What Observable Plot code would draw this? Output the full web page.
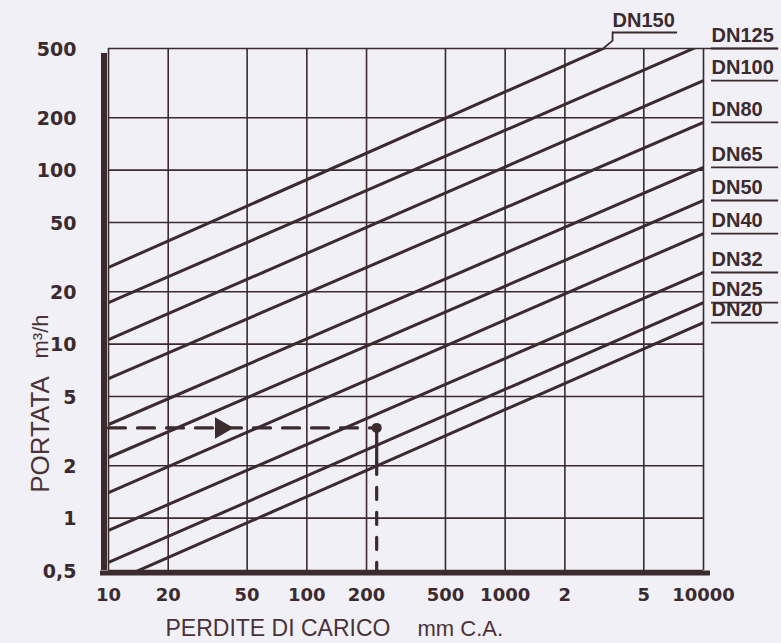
<!DOCTYPE html>
<html>
<head>
<meta charset="utf-8">
<script src="https://cdn.jsdelivr.net/npm/d3@7"></script>
<script src="https://cdn.jsdelivr.net/npm/@observablehq/plot@0.6"></script>
<style>
  html, body { margin: 0; padding: 0; background: #f0f0f6; }
  #chart svg { display: block; }
</style>
</head>
<body>
<div id="chart"></div>
<script>
// ---- Data ----
const sizes     = ["DN150", "DN125", "DN100", "DN80", "DN65", "DN50", "DN40", "DN32", "DN25", "DN20"];
const qAt10     = [27.6, 17.3, 10.6, 6.34, 3.45, 2.23, 1.40, 0.85, 0.556, 0.42];   // m3/h at 10 mm C.A.
const qAt10000  = [900, 530, 327, 188, 103.6, 66.9, 43.2, 25.8, 17.3, 13.3];      // m3/h at 10000 mm C.A.
const dpEnds    = [10, 10000];

const xTicks      = [10, 20, 50, 100, 200, 500, 1000, 2000, 5000, 10000];
const xTickLabels = ["10", "20", "50", "100", "200", "500", "1000", "2", "5", "10000"];
const yTicks      = [0.5, 1, 2, 5, 10, 20, 50, 100, 200, 500];
const yTickLabels = ["0,5", "1", "2", "5", "10", "20", "50", "100", "200", "500"];

// worked example (dashed reading line)
const exampleQ = 3.3;
const exampleDp = 225;
const exampleArrowDp = 37;
const exampleSolidEndQ = 2.09;

// DN150 leader (label sits above the frame)
const leaderDp = [3120, 3480, 3480];
const leaderQ  = [500, 555, 618];
const dn150UnderlineEndDp = 7400;

// ---- Build tables ----
const lineData = sizes.flatMap((s, i) => dpEnds.map((dp, j) => ({size: s, dp, q: j === 0 ? qAt10[i] : qAt10000[i]})));
const labelRows = sizes.slice(1).map((s, k) => ({size: s, q: Math.min(qAt10000[k + 1], 500)}));
const leader = leaderDp.map((dp, i) => ({dp, q: leaderQ[i]}));

const ink = "#3b2a2e";
const font = "'Liberation Sans', Arial, sans-serif";
const tickFont = "'DejaVu Sans', 'Liberation Sans', sans-serif";

const chart = Plot.plot({
  width: 781,
  height: 643,
  marginLeft: 108,
  marginRight: 78,
  marginTop: 48,
  marginBottom: 73,
  style: {background: "#f0f0f6", color: ink, fontFamily: font},
  x: {type: "log", domain: [10, 10000], axis: null},
  y: {type: "log", domain: [0.5, 500], axis: null},
  marks: [
    // grid
    Plot.ruleX(xTicks, {stroke: ink, strokeWidth: 1.6}),
    Plot.ruleY(yTicks.filter(d => d !== 500), {x1: 10, x2: 10000, stroke: ink, strokeWidth: 1.6}),
    // top frame, extended as DN125 underline
    Plot.ruleY([500], {x1: 10, x2: 21800, insetRight: -8, stroke: ink, strokeWidth: 1.6}),
    // thick axes
    Plot.ruleX([10], {y1: 0.5, y2: 500, dx: -4.5, insetBottom: -5, stroke: ink, strokeWidth: 6}),
    Plot.ruleY([0.5], {x1: 10, x2: 10000, dy: 2.5, insetLeft: -8, insetRight: -7, stroke: ink, strokeWidth: 5}),
    // pipe lines
    Plot.line(lineData, {x: "dp", y: "q", z: "size", stroke: ink, strokeWidth: 3, clip: true}),
    // worked example
    Plot.line([{dp: 10, q: exampleQ}, {dp: exampleDp, q: exampleQ}], {x: "dp", y: "q", stroke: ink, strokeWidth: 3.2, strokeDasharray: "17,12"}),
    Plot.line([{dp: exampleDp, q: exampleQ}, {dp: exampleDp, q: exampleSolidEndQ}], {x: "dp", y: "q", stroke: ink, strokeWidth: 3.2}),
    Plot.line([{dp: exampleDp, q: exampleSolidEndQ}, {dp: exampleDp, q: 0.5}], {x: "dp", y: "q", stroke: ink, strokeWidth: 3.2, strokeDasharray: "12,13"}),
    Plot.dot([{dp: exampleDp, q: exampleQ}], {x: "dp", y: "q", r: 5, fill: ink, stroke: "none"}),
    Plot.dot([{dp: exampleArrowDp, q: exampleQ}], {x: "dp", y: "q", symbol: "triangle", rotate: 90, r: 8, fill: ink, stroke: "none"}),
    // tick labels
    Plot.text(yTicks, {x: 10, y: d => d, text: (d, i) => yTickLabels[i], textAnchor: "end", dx: -32, dy: 1, fontSize: 19, fontWeight: "bold", fontFamily: tickFont, fill: ink}),
    Plot.text(xTicks, {x: d => d, y: 0.5, text: (d, i) => xTickLabels[i], dy: 25, fontSize: 18, fontWeight: "bold", fontFamily: tickFont, fill: ink}),
    // right-hand size labels with underlines
    Plot.text(labelRows, {x: 10000, y: "q", text: "size", textAnchor: "start", dx: 8, dy: -13, fontSize: 20, fontWeight: "bold", fill: ink}),
    Plot.ruleY(labelRows, {y: "q", x1: 10000, x2: 21800, insetLeft: 8, insetRight: -8, stroke: ink, strokeWidth: 1.8}),
    // DN150 label above the frame
    Plot.line(leader, {x: "dp", y: "q", stroke: ink, strokeWidth: 1.8}),
    Plot.ruleY([leaderQ[2]], {x1: leaderDp[2], x2: dn150UnderlineEndDp, stroke: ink, strokeWidth: 1.8}),
    Plot.text([sizes[0]], {x: leaderDp[2], y: leaderQ[2], text: d => d, textAnchor: "start", dy: -12, fontSize: 20, fontWeight: "bold", fill: ink}),
    // axis titles
    Plot.text(["PERDITE DI CARICO"], {frameAnchor: "bottom-left", text: d => d, textAnchor: "start", dx: 57, dy: 65, fontSize: 23, fill: "#4a3236"}),
    Plot.text(["mm C.A."], {frameAnchor: "bottom-left", text: d => d, textAnchor: "start", dx: 309, dy: 65, fontSize: 22, fill: "#4a3236"}),
    Plot.text(["PORTATA"], {frameAnchor: "left", text: d => d, textAnchor: "middle", rotate: -90, dx: -68, dy: 125, fontSize: 26, fill: "#4a3236"}),
    Plot.text(["m³/h"], {frameAnchor: "left", text: d => d, textAnchor: "middle", rotate: -90, dx: -68, dy: 27, fontSize: 22, fill: "#4a3236"})
  ]
});
document.getElementById("chart").appendChild(chart);
</script>
</body>
</html>
